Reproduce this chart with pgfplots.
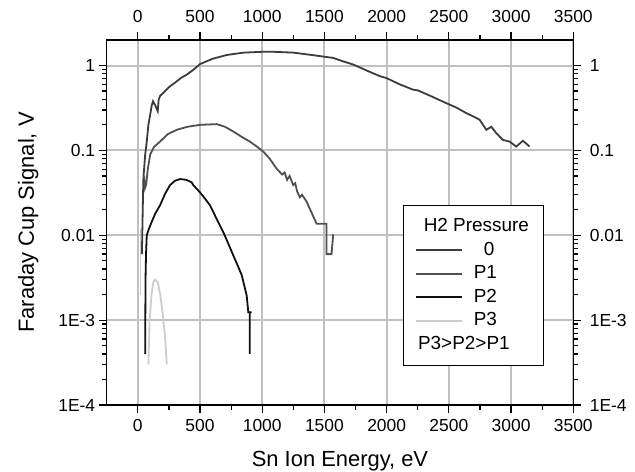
\documentclass[border=0pt]{standalone}
\usepackage{fontspec}
\setmainfont{Liberation Sans}
\usepackage{pgfplots}
\pgfplotsset{compat=1.18}

\definecolor{czero}{HTML}{3C3C3C}
\definecolor{cpone}{HTML}{505050}
\definecolor{cptwo}{HTML}{111111}
\definecolor{cpthree}{HTML}{CDCDCD}
\definecolor{gridc}{HTML}{C0C0C0}

\pgfplotsset{
  common/.style={
    at={(0,0)}, anchor=south west,
    scale only axis, width=466.6bp, height=365bp,
    xmin=-250, xmax=3500, ymin=1e-4, ymax=2,
    xtick={0,500,...,3500}, minor x tick num=1,
    ytick={1e-4,1e-3,0.01,0.1,1}, yticklabels={1E-4,1E-3,0.01,0.1,1},
    tick align=outside,
    major tick length=8bp, minor tick length=5bp,
    /pgf/number format/assume math mode=true,
    /pgf/number format/1000 sep={},
    tick label style={font=\fontsize{17.5}{20}\selectfont},
  },
}

\begin{document}
\begin{tikzpicture}
\useasboundingbox (-106.7bp,-67bp) rectangle (528.3bp,405bp);
\begin{semilogyaxis}[
  common,
  tick pos=both,
  xticklabel pos=lower, yticklabel pos=left,
  axis line style={line width=1.4bp},
  tick style={black, line width=1.2bp},
  xmajorgrids=true, ymajorgrids=true,
  grid style={gridc, line width=2bp},
  major grid style={gridc, line width=2bp},
  xticklabel style={yshift=-3bp},
  xlabel={Sn Ion Energy, eV}, ylabel={Faraday Cup Signal, V},
  label style={font=\fontsize{22}{24}\selectfont},
  xlabel style={yshift=-12bp},
  ylabel style={yshift=13bp},
  legend image code/.code={\draw[#1] (0bp,0bp) -- (46bp,0bp);},
  legend style={at={(0.635,0.107)}, anchor=south west, draw=black,
    line width=1.2bp, fill=white, font=\fontsize{19}{23}\selectfont,
    inner xsep=11.7bp, inner ysep=12bp, row sep=5.5bp, column sep=10.7bp,
    nodes={inner sep=0pt, text height=14bp, text depth=4bp},
    cells={anchor=west}},
]
% 0
\addplot[czero, line width=1.8bp, forget plot] coordinates {
(33,0.006) (38,0.015) (42,0.03) (45,0.047) (59,0.088) (72,0.127) (85,0.2)
(99,0.26) (112,0.34) (122,0.38) (140,0.34) (160,0.29) (168,0.4) (180,0.44)
(200,0.47) (230,0.52) (259,0.57) (300,0.63) (350,0.72) (393,0.78) (450,0.9)
(500,1.04) (600,1.2) (714,1.33) (850,1.42) (995,1.45) (1100,1.45) (1249,1.42)
(1400,1.33) (1570,1.23) (1650,1.12) (1730,1.03) (1850,0.86) (1945,0.75)
(2000,0.71) (2105,0.6) (2212,0.52) (2250,0.51) (2350,0.44) (2480,0.36)
(2560,0.32) (2640,0.275) (2700,0.25) (2747,0.23) (2801,0.175) (2841,0.19)
(2880,0.16) (2934,0.133) (2988,0.127) (3042,0.111) (3095,0.13) (3149,0.111)
};
% P1
\addplot[cpone, line width=1.8bp, forget plot] coordinates {
(50,0.05) (58,0.036) (68,0.04) (80,0.06) (100,0.09) (130,0.11) (179,0.127)
(240,0.155) (313,0.175) (400,0.19) (500,0.2) (634,0.204) (700,0.19)
(767,0.167) (850,0.14) (901,0.127) (960,0.11) (1008,0.097) (1060,0.08)
(1115,0.061) (1160,0.052) (1180,0.055) (1200,0.045) (1220,0.05) (1249,0.039)
(1265,0.041) (1280,0.033) (1303,0.028) (1320,0.03) (1356,0.025) (1400,0.018)
(1437,0.0137) (1517,0.0137) (1517,0.006) (1557,0.006) (1570,0.01) (1560,0.01)
};
% P2
\addplot[cptwo, line width=1.8bp, forget plot] coordinates {
(59,4e-4) (62,0.003) (66,0.006) (72,0.01) (90,0.012) (112,0.0144) (140,0.018)
(179,0.0226) (220,0.031) (259,0.039) (300,0.044) (340,0.046) (390,0.045)
(433,0.042) (446,0.039) (500,0.032) (540,0.027) (580,0.0226) (630,0.016)
(687,0.0109) (730,0.0078) (767,0.0058) (800,0.0045) (835,0.0034)
(875,0.00195) (888,0.00124) (915,0.00124) (900,0.00124) (900,4e-4)
};
% P3
\addplot[cpthree, line width=1.8bp, forget plot] coordinates {
(22,0.002) (22,0.012)
};
\addplot[cpthree, line width=1.8bp, forget plot] coordinates {
(85,3e-4) (95,0.001) (110,0.002) (125,0.0028) (140,0.003) (160,0.0028)
(180,0.002) (200,0.0012) (220,6e-4) (233,3e-4)
};
\addlegendimage{empty legend}
\addlegendentry{\makebox[58bp][l]{\hspace*{-50bp}H2 Pressure}}
\addlegendimage{czero, line width=1.8bp}
\addlegendentry{\makebox[58bp][l]{\hspace*{10bp}0}}
\addlegendimage{cpone, line width=1.8bp}
\addlegendentry{\makebox[58bp][l]{P1}}
\addlegendimage{cptwo, line width=1.8bp}
\addlegendentry{\makebox[58bp][l]{P2}}
\addlegendimage{cpthree, line width=1.8bp}
\addlegendentry{\makebox[58bp][l]{P3}}
\addlegendimage{empty legend}
\addlegendentry{\makebox[58bp][l]{\hspace*{-55.7bp}P3>P2>P1}}
\end{semilogyaxis}
\begin{semilogyaxis}[
  common,
  axis x line*=top, axis y line*=right,
  axis line style={draw=none},
  tick style={draw=none},
  xticklabel style={yshift=6bp},
  yticklabel style={xshift=5bp},
]
\addplot[draw=none, forget plot] coordinates {(0,1) (3000,0.1)};
\end{semilogyaxis}
\end{tikzpicture}
\end{document}
